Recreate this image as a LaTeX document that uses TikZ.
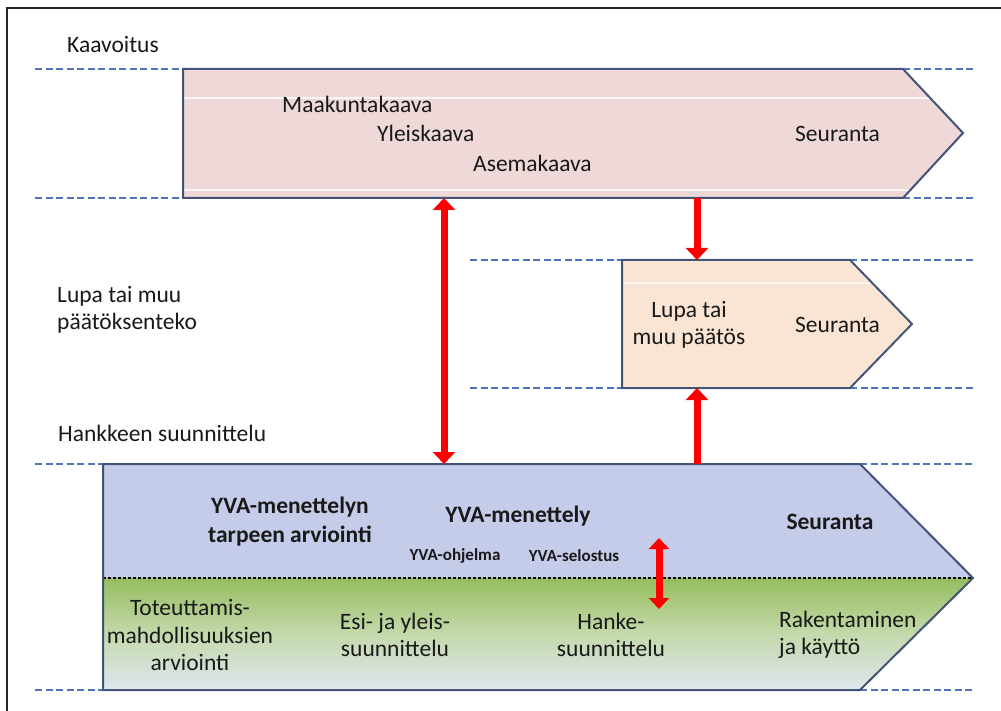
\documentclass[tikz,border=0pt]{standalone}
\usepackage{fontspec}
\setmainfont{Carlito}
\usetikzlibrary{arrows.meta}
\definecolor{dashblue}{RGB}{79,114,189}
\definecolor{edgec}{RGB}{68,84,120}
\definecolor{kaavafill}{RGB}{238,217,216}
\definecolor{lupafill}{RGB}{250,229,212}
\definecolor{yvafill}{RGB}{197,204,233}
\definecolor{greentop}{RGB}{150,190,94}
\definecolor{greenmid}{RGB}{196,217,172}
\definecolor{greenbot}{RGB}{222,230,238}
\definecolor{txt}{RGB}{25,25,25}
\tikzset{
  dashln/.style={dashblue, line width=2.8pt, dash pattern=on 7pt off 3.5pt},
  boxedge/.style={edgec, line width=2pt, line join=miter},
  lab/.style={font=\fontsize{23.5}{27.5}\selectfont, text=txt, inner sep=0pt, align=center},
  labl/.style={lab, align=left, anchor=west},
  blab/.style={lab, font=\fontsize{23.5}{29}\selectfont\bfseries},
  slab/.style={lab, font=\fontsize{17}{20}\selectfont\bfseries},
  redarr/.style={red, line width=7pt},
  tip/.tip={Triangle[width=22pt,length=12pt]}
}
\begin{document}
\begin{tikzpicture}[x=1pt,y=-1pt]
\useasboundingbox (0,0) rectangle (1001,711);
\fill[white] (0,0) rectangle (1001,711);
% frame
\draw[line width=2.2pt, black!85] (7,720) -- (7,8) -- (1010,8);

% dashed guide lines
\draw[dashln] (35,69) -- (183,69);
\draw[dashln] (903,69) -- (973,69);
\draw[dashln] (35,198) -- (183,198);
\draw[dashln] (903,198) -- (973,198);
\draw[dashln] (470,260) -- (622,260);
\draw[dashln] (850,260) -- (973,260);
\draw[dashln] (470,388) -- (622,388);
\draw[dashln] (850,388) -- (973,388);
\draw[dashln] (35,464) -- (103,464);
\draw[dashln] (860,464) -- (973,464);
\draw[dashln] (35,690) -- (103,690);
\draw[dashln] (860,690) -- (973,690);

% Kaavoitus box
\fill[kaavafill] (183,69) -- (903,69) -- (963,133) -- (903,198) -- (183,198) -- cycle;
\draw[white, line width=1.2pt, opacity=0.8] (184,98) -- (930,98);
\draw[white, line width=1.2pt, opacity=0.8] (184,190) -- (910,190);
\draw[boxedge] (183,69) -- (903,69) -- (963,133) -- (903,198) -- (183,198) -- cycle;

% Lupa box
\fill[lupafill] (622,260) -- (850,260) -- (912,324) -- (850,388) -- (622,388) -- cycle;
\draw[white, line width=1.2pt, opacity=0.6] (623,283) -- (870,283);
\draw[boxedge] (622,260) -- (850,260) -- (912,324) -- (850,388) -- (622,388) -- cycle;

% Hanke box
\fill[yvafill] (103,464) -- (860,464) -- (973,578) -- (103,578) -- cycle;
\shade[top color=greentop, bottom color=greenbot, middle color=greenmid]
  (103,578) -- (973,578) -- (860,690) -- (103,690) -- cycle;
\draw[black, line width=1.3pt, dash pattern=on 3pt off 2pt] (103,578) -- (973,578);
\draw[boxedge] (103,464) -- (860,464) -- (973,578) -- (860,690) -- (103,690) -- cycle;

% side labels
\node[labl] (kaav) at (67,45) {Kaavoitus};
\node[labl] (lupal) at (57,310) {Lupa tai muu\\päätöksenteko};
\node[labl] (hank) at (58,433) {Hankkeen suunnittelu};

% Kaavoitus texts
\node[labl] (maak) at (282,104) {Maakuntakaava};
\node[labl] (ylei) at (377,133) {Yleiskaava};
\node[labl] (asem) at (473,163) {Asemakaava};
\node[labl] (seur1) at (795,134) {Seuranta};

% Lupa texts
\node[lab] (lupa) at (689,325) {Lupa tai\\muu päätös};
\node[labl] (seur2) at (795,325) {Seuranta};

% YVA texts
\node[blab] (tarve) at (290,522) {YVA-menettelyn\\tarpeen arviointi};
\node[blab] (yva) at (518,516) {YVA-menettely};
\node[slab] (ohj) at (455,556) {YVA-ohjelma};
\node[slab] (sel) at (574,556) {YVA-selostus};
\node[blab] (seur3) at (830,522) {Seuranta};

% green texts
\node[lab] (tot) at (190,635) {Toteuttamis-\\mahdollisuuksien\\arviointi};
\node[lab] (esi) at (395,635) {Esi- ja yleis-\\suunnittelu};
\node[lab] (hs) at (611,635) {Hanke-\\suunnittelu};
\node[labl] (rak) at (779,635) {Rakentaminen\\ja käyttö};

% arrow end points
\coordinate (a1t) at (444,198);
\coordinate (a1b) at (444,464);
\coordinate (a2t) at (697,198);
\coordinate (a2b) at (697,260);
\coordinate (a3t) at (697,388);
\coordinate (a3b) at (697,464);
\coordinate (a4t) at (659,538);
\coordinate (a4b) at (659,609);

\draw[redarr, {tip}-{tip}] (a1t) -- (a1b);
\draw[redarr, -{tip}] (a2t) -- (a2b);
\draw[redarr, -{tip}] (a3b) -- (a3t);
\draw[redarr, {Triangle[width=20pt,length=11pt]}-{Triangle[width=20pt,length=11pt]}] (a4t) -- (a4b);
\end{tikzpicture}
\end{document}
